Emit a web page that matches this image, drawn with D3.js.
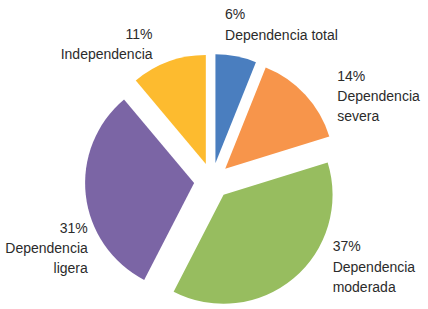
<!DOCTYPE html>
<html>
<head>
<meta charset="utf-8">
<script src="https://cdn.jsdelivr.net/npm/d3@7"></script>
<style>
  html, body { margin: 0; padding: 0; background: #fff; }
  #chart { width: 428px; height: 309px; }
  text { font-family: "Liberation Sans", Arial, sans-serif; font-size: 14px; fill: #2b2b2b; }
</style>
</head>
<body>
<div id="chart"></div>
<script>
// exploded pie: distribution by dependency level
const categories = ['Dependencia total', 'Dependencia severa', 'Dependencia moderada', 'Dependencia ligera', 'Independencia'];
const values = [6, 14, 37, 31, 11];
const pctLabels = ['6%', '14%', '37%', '31%', '11%'];
// how each label wraps onto lines
const labelLines = [
  ['Dependencia total'],
  ['Dependencia', 'severa'],
  ['Dependencia', 'moderada'],
  ['Dependencia', 'ligera'],
  ['Independencia']
];
const colors = ['#4a7ebf', '#f7954b', '#97bd5f', '#7b65a5', '#fdbb2f'];

(function(){
  const w = 428, h = 309;
  const cx = 212, cy = 181, radius = 109, explode = 18;
  const lineH = 20.3;
  // nudge of each label block from the slice's outer point (x, first baseline)
  const labelNudge = [[-11, -37], [32, -14], [39, -27], [2, 37.5], [-16, -23]];

  const parsed = categories.map((c, i) => ({cat: c, value: values[i], pct: pctLabels[i], lines: labelLines[i], i: i}));

  const svg = d3.select('#chart').append('svg').attr('width', w).attr('height', h);
  const g = svg.append('g').attr('transform', `translate(${cx},${cy})`);

  const pie = d3.pie().sort(null).value(d => d.value).startAngle(0).endAngle(2 * Math.PI)(parsed);
  const arc = d3.arc().innerRadius(0).outerRadius(radius);
  const mid = d => (d.startAngle + d.endAngle) / 2;
  const offset = (d, r) => [Math.sin(mid(d)) * r, -Math.cos(mid(d)) * r];

  g.selectAll('path').data(pie).enter().append('path')
    .attr('d', arc)
    .attr('transform', d => `translate(${offset(d, explode)})`)
    .attr('fill', d => colors[d.data.i]);

  // labels
  const lab = g.selectAll('g.lab').data(pie).enter().append('g').attr('class', 'lab')
    .attr('transform', d => {
      const p = offset(d, radius + explode);
      const n = labelNudge[d.data.i];
      return `translate(${p[0] + n[0]},${p[1] + n[1]})`;
    });
  lab.each(function(d){
    const right = Math.sin(mid(d)) >= 0;
    const t = d3.select(this).append('text').attr('text-anchor', right ? 'start' : 'end');
    [d.data.pct].concat(d.data.lines).forEach((s, k) => {
      t.append('tspan').attr('x', 0).attr('y', k * lineH).text(s);
    });
  });
})();
</script>
</body>
</html>
